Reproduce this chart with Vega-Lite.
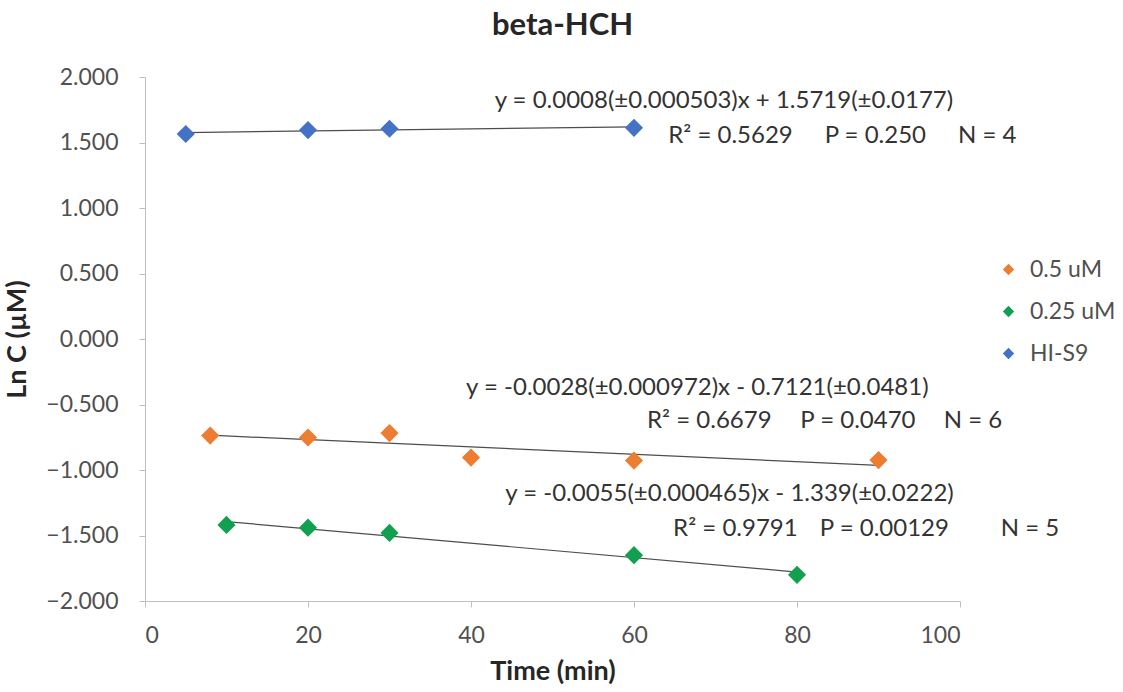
{
  "$schema": "https://vega.github.io/schema/vega-lite/v6.json",
  "width": 815,
  "height": 524,
  "autosize": {"type": "none"},
  "padding": {"left": 145, "top": 77, "right": 163, "bottom": 91},
  "background": "white",
  "title": {
    "text": "beta-HCH",
    "font": "Lato",
    "fontSize": 31,
    "fontWeight": "bold",
    "color": "#262626",
    "anchor": "middle",
    "dx": 10,
    "offset": 24
  },
  "datasets": {
    "points": [
      {"series": "HI-S9", "time": 5, "lnc": 1.565},
      {"series": "HI-S9", "time": 20, "lnc": 1.595},
      {"series": "HI-S9", "time": 30, "lnc": 1.605},
      {"series": "HI-S9", "time": 60, "lnc": 1.612},
      {"series": "0.5 uM", "time": 8, "lnc": -0.737},
      {"series": "0.5 uM", "time": 20, "lnc": -0.752},
      {"series": "0.5 uM", "time": 30, "lnc": -0.718},
      {"series": "0.5 uM", "time": 40, "lnc": -0.905},
      {"series": "0.5 uM", "time": 60, "lnc": -0.928},
      {"series": "0.5 uM", "time": 90, "lnc": -0.924},
      {"series": "0.25 uM", "time": 10, "lnc": -1.419},
      {"series": "0.25 uM", "time": 20, "lnc": -1.440},
      {"series": "0.25 uM", "time": 30, "lnc": -1.480},
      {"series": "0.25 uM", "time": 60, "lnc": -1.650},
      {"series": "0.25 uM", "time": 80, "lnc": -1.800}
    ],
    "trends": [
      {"series": "HI-S9", "time": 5, "lnc": 1.5759},
      {"series": "HI-S9", "time": 60, "lnc": 1.6199},
      {"series": "0.5 uM", "time": 8, "lnc": -0.7345},
      {"series": "0.5 uM", "time": 90, "lnc": -0.9641},
      {"series": "0.25 uM", "time": 10, "lnc": -1.394},
      {"series": "0.25 uM", "time": 80, "lnc": -1.779}
    ],
    "labels": [
      {"time": 42.9, "lnc": 1.763, "text": "y = 0.0008(±0.000503)x + 1.5719(±0.0177)"},
      {"time": 64.2, "lnc": 1.500, "text": "R² = 0.5629"},
      {"time": 83.4, "lnc": 1.500, "text": "P = 0.250"},
      {"time": 99.75, "lnc": 1.500, "text": "N = 4"},
      {"time": 39.4, "lnc": -0.431, "text": "y = -0.0028(±0.000972)x - 0.7121(±0.0481)"},
      {"time": 61.6, "lnc": -0.683, "text": "R² = 0.6679"},
      {"time": 80.4, "lnc": -0.683, "text": "P = 0.0470"},
      {"time": 98.0, "lnc": -0.683, "text": "N = 6"},
      {"time": 44.2, "lnc": -1.233, "text": "y = -0.0055(±0.000465)x - 1.339(±0.0222)"},
      {"time": 64.8, "lnc": -1.500, "text": "R² = 0.9791"},
      {"time": 82.8, "lnc": -1.500, "text": "P = 0.00129"},
      {"time": 105.0, "lnc": -1.500, "text": "N = 5"}
    ]
  },
  "config": {
    "view": {"stroke": null},
    "axis": {
      "grid": false,
      "domainColor": "#bfbfbf",
      "tickColor": "#bfbfbf",
      "tickSize": 6,
      "labelFont": "Lato",
      "labelFontSize": 23,
      "labelColor": "#505050",
      "titleFont": "Lato",
      "titleFontSize": 27,
      "titleFontWeight": "bold",
      "titleColor": "#262626"
    },
    "legend": {
      "labelFont": "Lato",
      "labelFontSize": 23,
      "labelColor": "#505050"
    }
  },
  "layer": [
    {
      "data": {"name": "trends"},
      "mark": {"type": "line", "color": "#4d4d4d", "strokeWidth": 1.2},
      "encoding": {
        "x": {"field": "time", "type": "quantitative"},
        "y": {"field": "lnc", "type": "quantitative"},
        "detail": {"field": "series"}
      }
    },
    {
      "data": {"name": "points"},
      "mark": {"type": "point", "shape": "diamond", "filled": true, "size": 330, "opacity": 1},
      "encoding": {
        "x": {
          "field": "time",
          "type": "quantitative",
          "scale": {"domain": [0, 100], "nice": false},
          "axis": {"values": [0, 20, 40, 60, 80, 100], "title": "Time (min)", "labelPadding": 17, "titlePadding": 11}
        },
        "y": {
          "field": "lnc",
          "type": "quantitative",
          "scale": {"domain": [-2, 2], "nice": false, "zero": false},
          "axis": {
            "values": [-2, -1.5, -1, -0.5, 0, 0.5, 1, 1.5, 2],
            "format": ".3f",
            "title": "Ln C (µM)",
            "labelPadding": 21,
            "titlePadding": 14
          }
        },
        "color": {
          "field": "series",
          "type": "nominal",
          "scale": {
            "domain": ["0.5 uM", "0.25 uM", "HI-S9"],
            "range": ["#ED7D31", "#11A050", "#4472C4"]
          },
          "legend": {
            "title": null,
            "orient": "none",
            "legendX": 852,
            "legendY": 181,
            "symbolType": "diamond",
            "symbolSize": 130,
            "symbolOpacity": 1,
            "labelOffset": 10,
            "rowPadding": 18,
            "padding": 0
          }
        }
      }
    },
    {
      "data": {"name": "labels"},
      "mark": {"type": "text", "align": "left", "baseline": "alphabetic", "font": "Lato", "fontSize": 24, "color": "#333333"},
      "encoding": {
        "x": {"field": "time", "type": "quantitative"},
        "y": {"field": "lnc", "type": "quantitative"},
        "text": {"field": "text"}
      }
    }
  ]
}
